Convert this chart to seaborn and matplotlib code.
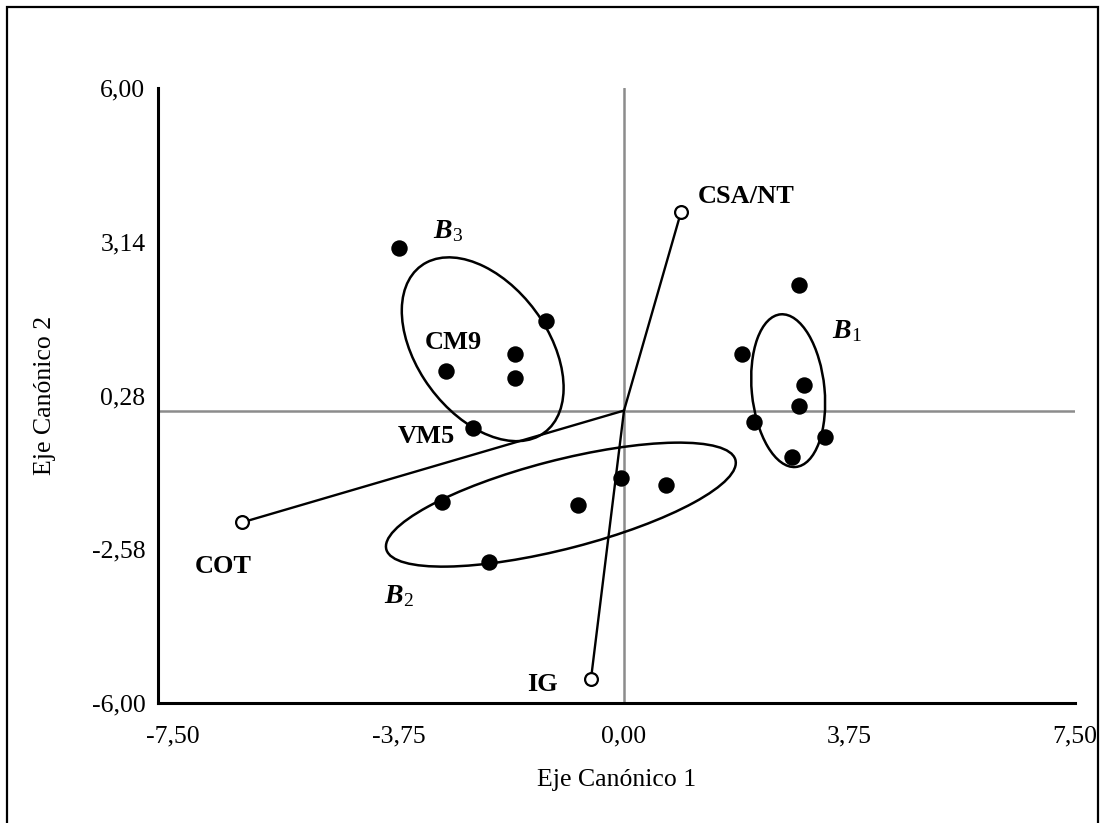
import numpy as np
import pandas as pd
import matplotlib
matplotlib.use("Agg")
import matplotlib.pyplot as plt
from matplotlib.patches import Ellipse, Rectangle
import seaborn as sns

# Canonical scores of the sites, by group
group_b1_x = [2.91, 1.96, 2.99, 2.91, 2.16, 3.34, 2.79]
group_b1_y = [2.34, 1.06, 0.48, 0.09, -0.22, -0.50, -0.87]
group_b2_x = [-3.03, -0.77, -0.05, 0.70, -2.25]
group_b2_y = [-1.71, -1.75, -1.25, -1.38, -2.81]
group_b3_x = [-3.74, -1.30, -1.81, -2.96, -1.81, -2.51]
group_b3_y = [3.03, 1.66, 1.06, 0.73, 0.60, -0.32]

# Variable vectors (biplot loadings)
vector_names = ["CSA/NT", "COT", "IG"]
vector_x = [0.95, -6.35, -0.55]
vector_y = [3.70, -2.08, -5.00]

# Group ellipses: centre, full axes, rotation (data units / degrees)
ellipse_cx = [2.73, -1.05, -2.35]
ellipse_cy = [0.37, -1.75, 1.14]
ellipse_w = [2.85, 6.04, 3.73]
ellipse_h = [1.21, 1.64, 2.24]
ellipse_angle = [-85.1, 16.2, -60.0]

# Axis ticks
x_ticks = [-7.50, -3.75, 0.00, 3.75, 7.50]
x_tick_labels = ["-7,50", "-3,75", "0,00", "3,75", "7,50"]
y_ticks = [-5.44, -2.58, 0.28, 3.14, 6.00]
y_tick_labels = ["-6,00", "-2,58", "0,28", "3,14", "6,00"]

# Text annotations
group_labels = [r"$\mathbfit{B}_{\mathit{1}}$", r"$\mathbfit{B}_{\mathit{2}}$", r"$\mathbfit{B}_{\mathit{3}}$"]
group_label_x = [3.71, -3.74, -2.93]
group_label_y = [1.47, -3.46, 3.33]
site_labels = ["CM9", "VM5"]
site_label_x = [-2.83, -3.29]
site_label_y = [1.26, -0.48]
vector_label_x = [1.23, -6.67, -1.36]
vector_label_y = [3.98, -2.90, -5.10]
vector_label_ha = ["left", "center", "center"]

sns.set_theme(style="white")
plt.rcParams["font.family"] = ["Liberation Serif", "DejaVu Serif"]
plt.rcParams["text.color"] = "black"
plt.rcParams["axes.labelcolor"] = "black"
plt.rcParams["xtick.color"] = "black"
plt.rcParams["ytick.color"] = "black"
plt.rcParams["mathtext.fontset"] = "custom"
plt.rcParams["mathtext.rm"] = "Liberation Serif"
plt.rcParams["mathtext.it"] = "Liberation Serif:italic"
plt.rcParams["mathtext.bf"] = "Liberation Serif:bold"
plt.rcParams["mathtext.bfit"] = "Liberation Serif:bold:italic"

scores = pd.concat([
    pd.DataFrame({"x": group_b1_x, "y": group_b1_y, "grupo": "B1"}),
    pd.DataFrame({"x": group_b2_x, "y": group_b2_y, "grupo": "B2"}),
    pd.DataFrame({"x": group_b3_x, "y": group_b3_y, "grupo": "B3"}),
], ignore_index=True)

fig = plt.figure(figsize=(11.11, 8.23), dpi=100)
ax = fig.add_axes([0.1422, 0.1458, 0.8254, 0.7473])

# Reference axes through the origin
ax.axhline(0, color="#8c8c8c", lw=1.8, zorder=1)
ax.axvline(0, color="#8c8c8c", lw=1.8, zorder=1)

# Ellipses around each group
for cx, cy, w, h, a in zip(ellipse_cx, ellipse_cy, ellipse_w, ellipse_h, ellipse_angle):
    ax.add_patch(Ellipse((cx, cy), w, h, angle=a, fill=False,
                         edgecolor="black", lw=1.8, zorder=2))

# Variable vectors from the origin
for vx, vy in zip(vector_x, vector_y):
    ax.plot([0, vx], [0, vy], color="black", lw=1.7, zorder=3,
            solid_capstyle="round")
vec_df = pd.DataFrame({"x": vector_x, "y": vector_y})
sns.scatterplot(data=vec_df, x="x", y="y", ax=ax, s=85, color="white",
                edgecolor="black", linewidth=1.6, zorder=5, legend=False)

# Site scores
sns.scatterplot(data=scores, x="x", y="y", ax=ax, s=140, color="black",
                edgecolor="black", linewidth=0, zorder=4, legend=False)

for lab, lx, ly, ha in zip(vector_names, vector_label_x, vector_label_y, vector_label_ha):
    ax.text(lx, ly, lab, ha=ha, va="center", fontsize=19, fontweight="bold",
            color="black")
for lab, lx, ly in zip(site_labels, site_label_x, site_label_y):
    ax.text(lx, ly, lab, ha="center", va="center", fontsize=19, fontweight="bold",
            color="black")
for lab, lx, ly in zip(group_labels, group_label_x, group_label_y):
    ax.text(lx, ly, lab, ha="center", va="center", fontsize=20, color="black")

ax.set_xlim(-7.75, 7.5)
ax.set_ylim(-5.44, 6.0)
ax.set_xticks(x_ticks)
ax.set_xticklabels(x_tick_labels)
ax.set_yticks(y_ticks)
ax.set_yticklabels(y_tick_labels)
ax.tick_params(axis="both", direction="out", width=1.8, colors="black",
               labelsize=18.5, length=6, pad=4)
ax.tick_params(axis="y", length=7, pad=2)
ax.tick_params(axis="x", pad=10)

for side in ["top", "right"]:
    ax.spines[side].set_visible(False)
for side in ["left", "bottom"]:
    ax.spines[side].set_color("black")
    ax.spines[side].set_linewidth(2.2)

ax.set_xlabel("Eje Canónico 1", fontsize=18.5, labelpad=16, color="black")
ax.set_ylabel("Eje Canónico 2", fontsize=18.5, labelpad=26, color="black")
ax.set_facecolor("white")

# Outer frame of the figure
fig.patches.append(Rectangle((0.0063, -0.02), 0.982, 1.0115, transform=fig.transFigure,
                             fill=False, edgecolor="black", lw=1.6, zorder=0))

fig.savefig("out.png", dpi=100, facecolor="white")
